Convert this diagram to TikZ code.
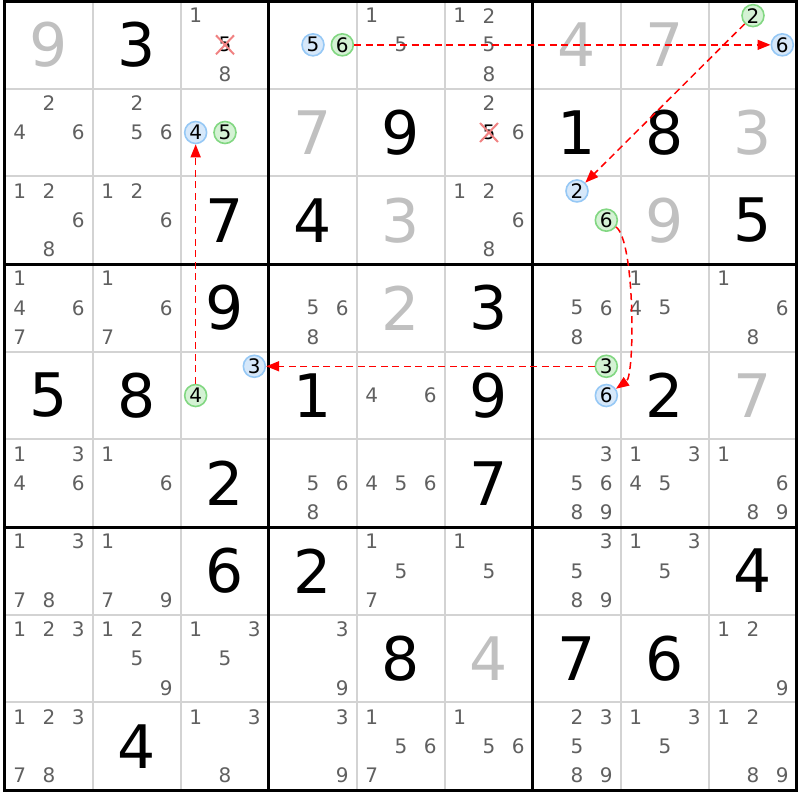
\documentclass[tikz,border=0pt]{standalone}
\usepackage{fontspec}
\setmainfont{DejaVu Sans}
\usepackage{tikz}
\usetikzlibrary{arrows.meta,shapes.misc}

\definecolor{gridgray}{RGB}{211,211,211}
\definecolor{solvedgray}{RGB}{192,192,192}
\definecolor{candgray}{RGB}{96,96,96}
\definecolor{ringblue}{RGB}{150,200,245}
\definecolor{fillblue}{RGB}{214,232,250}
\definecolor{ringgreen}{RGB}{130,215,130}
\definecolor{fillgreen}{RGB}{212,242,212}
\definecolor{xred}{RGB}{240,130,130}

\newcommand{\bigdigit}[4][given]{\node[#1] (n#2#3) at (#3-0.5,#2-0.5) {#4};}
\newcommand{\cand}[4][]{%
	\pgfmathsetmacro{\candx}{#3-1+(2*mod(#4-1,3)+1)/6}%
	\pgfmathsetmacro{\candy}{#2-1+(2*floor((#4-1)/3)+1)/6}%
	\node[cand,#1] (m#2#3#4) at (\candx,\candy) {#4};}
\newcommand{\cands}[3]{\foreach \k in {#3} {\cand{#1}{#2}{\k}}}

\begin{document}
\begin{tikzpicture}[x=88pt, y=-87.67pt,
		thin line/.style={gridgray, line width=2pt},
		box line/.style={black, line width=3pt},
		given/.style={font=\fontsize{60}{60}\selectfont, inner sep=0pt},
		solved/.style={given, text=solvedgray},
		cand/.style={font=\fontsize{20}{20}\selectfont, inner sep=0pt, text=candgray},
		ring a/.style={circle, draw=ringblue, fill=fillblue, line width=1.6pt, minimum size=22pt, text=black},
		ring b/.style={circle, draw=ringgreen, fill=fillgreen, line width=1.6pt, minimum size=22pt, text=black},
		struck/.style={cross out, draw=xred, line width=2pt, minimum width=16pt, minimum height=17pt, text=black},
		link/.style={red, dash pattern=on 7pt off 4.5pt, line width=1.5pt, -{Triangle[length=13pt,width=10pt]}}]
				\useasboundingbox (-0.0568,-0.0114) rectangle (9.0341,9.1138);
				
				% Grid
				\foreach \i in {1,2,4,5,7,8} {
					\draw[thin line] (\i,0) -- (\i,9);
					\draw[thin line] (0,\i) -- (9,\i);
				}
				\foreach \i in {3,6} {
					\draw[box line] (\i,0) -- (\i,9);
					\draw[box line] (0,\i) -- (9,\i);
				}
				\draw[box line] (0,0) rectangle (9,9);
				
				% Digits
				\bigdigit[solved]{1}{1}{9} \bigdigit{1}{2}{3} \bigdigit[solved]{1}{7}{4} \bigdigit[solved]{1}{8}{7}
				\bigdigit[solved]{2}{4}{7} \bigdigit{2}{5}{9} \bigdigit{2}{7}{1} \bigdigit{2}{8}{8} \bigdigit[solved]{2}{9}{3}
				\bigdigit{3}{3}{7} \bigdigit{3}{4}{4} \bigdigit[solved]{3}{5}{3} \bigdigit[solved]{3}{8}{9} \bigdigit{3}{9}{5}
				\bigdigit{4}{3}{9} \bigdigit[solved]{4}{5}{2} \bigdigit{4}{6}{3}
				\bigdigit{5}{1}{5} \bigdigit{5}{2}{8} \bigdigit{5}{4}{1} \bigdigit{5}{6}{9} \bigdigit{5}{8}{2} \bigdigit[solved]{5}{9}{7}
				\bigdigit{6}{3}{2} \bigdigit{6}{6}{7}
				\bigdigit{7}{3}{6} \bigdigit{7}{4}{2} \bigdigit{7}{9}{4}
				\bigdigit{8}{5}{8} \bigdigit[solved]{8}{6}{4} \bigdigit{8}{7}{7} \bigdigit{8}{8}{6}
				\bigdigit{9}{2}{4}
				
				% Candidates
				\cand{1}{3}{1} \cand[struck]{1}{3}{5} \cand{1}{3}{8}
				\cand[ring a]{1}{4}{5} \cand[ring b]{1}{4}{6}
				\cands{1}{5}{1,5}
				\cands{1}{6}{1,2,5,8}
				\cand[ring b]{1}{9}{2} \cand[ring a]{1}{9}{6}
				
				\cands{2}{1}{2,4,6}
				\cands{2}{2}{2,5,6}
				\cand[ring a]{2}{3}{4} \cand[ring b]{2}{3}{5}
				\cand{2}{6}{2} \cand[struck]{2}{6}{5} \cand{2}{6}{6}
				
				\cands{3}{1}{1,2,6,8}
				\cands{3}{2}{1,2,6}
				\cands{3}{6}{1,2,6,8}
				\cand[ring a]{3}{7}{2} \cand[ring b]{3}{7}{6}
				
				\cands{4}{1}{1,4,6,7}
				\cands{4}{2}{1,6,7}
				\cands{4}{4}{5,6,8}
				\cands{4}{7}{5,6,8}
				\cands{4}{8}{1,4,5}
				\cands{4}{9}{1,6,8}
				
				\cand[ring a]{5}{3}{3} \cand[ring b]{5}{3}{4}
				\cands{5}{5}{4,6}
				\cand[ring b]{5}{7}{3} \cand[ring a]{5}{7}{6}
				
				\cands{6}{1}{1,3,4,6}
				\cands{6}{2}{1,6}
				\cands{6}{4}{5,6,8}
				\cands{6}{5}{4,5,6}
				\cands{6}{7}{3,5,6,8,9}
				\cands{6}{8}{1,3,4,5}
				\cands{6}{9}{1,6,8,9}
				
				\cands{7}{1}{1,3,7,8}
				\cands{7}{2}{1,7,9}
				\cands{7}{5}{1,5,7}
				\cands{7}{6}{1,5}
				\cands{7}{7}{3,5,8,9}
				\cands{7}{8}{1,3,5}
				
				\cands{8}{1}{1,2,3}
				\cands{8}{2}{1,2,5,9}
				\cands{8}{3}{1,3,5}
				\cands{8}{4}{3,9}
				\cands{8}{9}{1,2,9}
				
				\cands{9}{1}{1,2,3,7,8}
				\cands{9}{3}{1,3,8}
				\cands{9}{4}{3,9}
				\cands{9}{5}{1,5,6,7}
				\cands{9}{6}{1,5,6}
				\cands{9}{7}{2,3,5,8,9}
				\cands{9}{8}{1,3,5}
				\cands{9}{9}{1,2,8,9}
				
				% Arrows
				\draw[link] (m146) -- (m196);
				\draw[link] (m192) -- (m372);
				\draw[link] (m376) .. controls (7.16,2.73) and (7.16,4.27) .. (m576);
				\draw[link] (m573) -- (m533);
				\draw[link] (m534) -- (m234);
			\end{tikzpicture}
\end{document}
